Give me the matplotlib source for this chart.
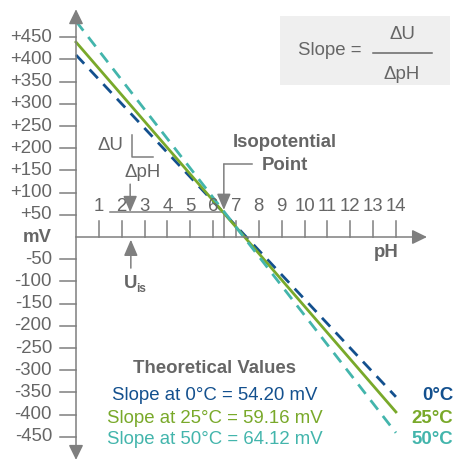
import matplotlib.pyplot as plt

plt.rcParams['font.family'] = ['Liberation Sans', 'DejaVu Sans']

# pH axis ticks and mV axis ticks
ph_ticks = list(range(1, 15))
mv_ticks = [450, 400, 350, 300, 250, 200, 150, 100, 50, -50, -100, -150, -200,
            -250, -300, -350, -400, -450]
mv_labels = ['+450', '+400', '+350', '+300', '+250', '+200', '+150', '+100', '+50',
             '-50', '-100', '-150', '-200', '-250', '-300', '-350', '-400', '-450']

# electrode lines at three temperatures (mV read at pH 0 and pH 14)
temps = ['0°C', '25°C', '50°C']
slopes = ['54.20', '59.16', '64.12']
u_ph0 = [410, 439, 486]
u_ph14 = [-360, -394, -441]
ph_ends = [0, 14]

# isopotential point
ph_is = 6.47
u_is = 56

gray = '#7f7f7f'
text_gray = '#666666'
colors = ['#13508e', '#79a92a', '#43b5ac']
styles = [(0, (4.3, 2.9)), '-', (0, (4.3, 2.9))]

fig = plt.figure(figsize=(4.56, 4.61), dpi=100)
ax = fig.add_axes([0, 0, 1, 1])
ax.set_xlim(-3.326, 16.63)
ax.set_ylim(-504.5, 533.8)
ax.axis('off')

fs = 13.4

# axes with arrows
arrow = dict(arrowstyle='-|>,head_length=0.45,head_width=0.22', color=gray, lw=1.1,
             mutation_scale=20, shrinkA=0, shrinkB=0)
ax.annotate('', xy=(0, 513), xytext=(0, 0), arrowprops=arrow)
ax.annotate('', xy=(0, -502), xytext=(0, 0), arrowprops=arrow)
ax.annotate('', xy=(15.36, 0), xytext=(0, 0), arrowprops=arrow)

# mV ticks
for v, lab in zip(mv_ticks, mv_labels):
    ax.plot([-0.7, 0], [v, v], color=gray, lw=1.1)
    ax.text(-1.05, v, lab, ha='right', va='center', fontsize=fs, color=text_gray)
ax.text(-1.05, 0, 'mV', ha='right', va='center', fontsize=fs, color=text_gray,
        fontweight='bold')

# pH ticks
for p in ph_ticks:
    ax.plot([p, p], [0, 36], color=gray, lw=1.1)
    ax.text(p, 68, str(p), ha='center', va='center', fontsize=fs, color=text_gray)
ax.text(13.57, -36, 'pH', ha='center', va='center', fontsize=fs, color=text_gray,
        fontweight='bold')

# reference lines to the isopotential point
ax.plot([1.5, ph_is], [u_is, u_is], color=gray, lw=1.1)
ax.plot([ph_is, ph_is], [u_is, 0], color=gray, lw=1.1)

# electrode lines
for u0, u14, c, ls in zip(u_ph0, u_ph14, colors, styles):
    ax.plot(ph_ends, [u0, u14], color=c, lw=2.0, linestyle=ls)

# delta U / delta pH sketch
small = dict(arrowstyle='-|>,head_length=0.7,head_width=0.3', color=gray, lw=1.1,
             mutation_scale=14, shrinkA=0, shrinkB=0)
ax.text(1.49, 205, 'ΔU', ha='center', va='center', fontsize=fs, color=text_gray)
ax.plot([2.45, 2.45, 3.37], [230, 180, 180], color=gray, lw=1.1)
ax.text(2.93, 146, 'ΔpH', ha='center', va='center', fontsize=fs, color=text_gray)
ax.annotate('', xy=(2.37, u_is), xytext=(2.37, 119), arrowprops=small)

# U_is arrow
ax.annotate('', xy=(2.4, -6), xytext=(2.4, -70), arrowprops=small)
ax.text(2.4, -104, 'U', ha='center', va='center', fontsize=fs, color=text_gray,
        fontweight='bold')
ax.text(2.65, -118, 'is', ha='left', va='center', fontsize=8.5, color=text_gray,
        fontweight='bold')

# isopotential point label
ax.text(9.15, 212, 'Isopotential', ha='center', va='center', fontsize=fs,
        color=text_gray, fontweight='bold')
ax.text(9.15, 162, 'Point', ha='center', va='center', fontsize=fs,
        color=text_gray, fontweight='bold')
ax.plot([7.71, ph_is], [164, 164], color=gray, lw=1.1)
ax.annotate('', xy=(ph_is, u_is + 5), xytext=(ph_is, 164), arrowprops=small)

# slope formula box
ax.add_patch(plt.Rectangle((8.93, 342), 7.44, 156, facecolor='#efefef',
                           edgecolor='none'))
ax.text(9.72, 419, 'Slope =', ha='left', va='center', fontsize=fs, color=text_gray)
ax.plot([13.0, 15.58], [414, 414], color=text_gray, lw=1.1)
ax.text(14.27, 457, 'ΔU', ha='center', va='center', fontsize=fs, color=text_gray)
ax.text(14.27, 367, 'ΔpH', ha='center', va='center', fontsize=fs, color=text_gray)

# theoretical values
ax.text(6.04, -297, 'Theoretical Values', ha='center', va='center', fontsize=fs,
        color=text_gray, fontweight='bold')
rows = [-356, -408, -457]
for t, s, c, y in zip(temps, slopes, colors, rows):
    ax.text(6.08, y, f'Slope at {t} = {s} mV', ha='center', va='center',
            fontsize=fs, color=c)
    ax.text(16.5, y, t, ha='right', va='center', fontsize=fs, color=c,
            fontweight='bold')

fig.savefig('out.png', dpi=100)
